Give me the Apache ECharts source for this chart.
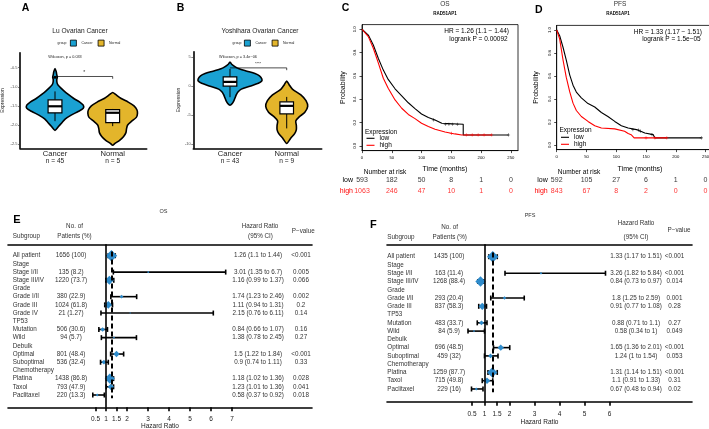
<!DOCTYPE html>
<html><head><meta charset="utf-8">
<script src="https://cdn.jsdelivr.net/npm/echarts@6/dist/echarts.min.js"></script>
<style>html,body{margin:0;padding:0;background:#fff}#c{width:709px;height:429px}</style>
</head><body><div id="c"></div>
<script>
const FONT = '"Liberation Sans", Arial, Helvetica, sans-serif';

// ---------- Panels A / B : violin plots ----------
const violinGroups = ['Cancer', 'Normal'];
const luCounts = [45, 5];
const yoshCounts = [43, 9];
const luTicks = [-2.5, -2, -1.5, -1, -0.5];
const yoshTicks = [-10, -5, 0, 5];
// [expression, half-width in group units]
const luCancerProfile = [[-0.52,0],[-0.6,0.02],[-0.68,0.03],[-0.75,0.04],[-0.82,0.03],[-0.92,0.04],[-1.0,0.08],[-1.1,0.15],[-1.2,0.23],[-1.3,0.32],[-1.4,0.43],[-1.48,0.49],[-1.56,0.49],[-1.64,0.41],[-1.74,0.28],[-1.84,0.18],[-1.94,0.12],[-2.04,0.06],[-2.14,0]];
const luNormalProfile = [[-1.15,0],[-1.2,0.05],[-1.3,0.14],[-1.4,0.27],[-1.5,0.37],[-1.6,0.42],[-1.7,0.43],[-1.8,0.41],[-1.9,0.33],[-2.0,0.26],[-2.1,0.24],[-2.2,0.23],[-2.3,0.19],[-2.4,0.12],[-2.48,0.04],[-2.53,0]];
const yoshCancerProfile = [[4.2,0],[3.8,0.03],[3.3,0.1],[3.0,0.16],[2.6,0.3],[2.2,0.44],[1.8,0.52],[1.3,0.56],[0.9,0.56],[0.5,0.5],[0.0,0.35],[-0.5,0.2],[-1.0,0.14],[-1.5,0.11],[-2.0,0.09],[-2.5,0.07],[-3.0,0.04],[-3.3,0]];
const yoshNormalProfile = [[0.9,0],[0.3,0.04],[-0.5,0.1],[-1.5,0.25],[-2.5,0.34],[-3.5,0.37],[-4.5,0.32],[-5.3,0.22],[-6.0,0.16],[-6.8,0.17],[-7.5,0.17],[-8.2,0.14],[-9.0,0.07],[-9.9,0]];
// [lower whisker, Q1, median, Q3, upper whisker]
const luCancerBox = [-1.90, -1.68, -1.51, -1.34, -1.12];
const luNormalBox = [-2.03, -1.94, -1.68, -1.60, -1.58];
const yoshCancerBox = [-1.9, 0.0, 0.75, 1.6, 3.0];
const yoshNormalBox = [-7.3, -4.8, -3.4, -2.7, -1.85];
const luCancerOutliers = [-0.75];
const luBracket = [[1, -0.73], [2, -0.73], [2, -0.79]];
const yoshBracket = [[1, 3.17], [2, 3.17], [2, 2.77]];

// ---------- Panels C / D : Kaplan-Meier ----------
const kmTicksX = [0, 50, 100, 150, 200, 250];
const kmTicksY = [0, 0.2, 0.4, 0.6, 0.8, 1.0];
const osLowCurve = [[0,1],[10.6,0.95],[19,0.865],[27.5,0.75],[35.8,0.65],[44,0.57],[55.5,0.49],[66.7,0.43],[77.8,0.37],[89,0.32],[100,0.274],[111.4,0.243],[122.7,0.223],[134,0.194],[137,0.186],[170,0.186],[170,0.094],[246,0.094]];
const osHighCurve = [[0,1],[10.6,0.937],[19,0.837],[27.5,0.71],[35.8,0.58],[44,0.494],[55.5,0.394],[66.7,0.323],[77.8,0.27],[89,0.234],[100,0.194],[111.4,0.166],[122.7,0.143],[139.5,0.12],[156,0.103],[167.6,0.094],[218,0.094]];
const pfsLowCurve = [[0,1],[5,0.95],[10.6,0.85],[16,0.74],[21.8,0.61],[27.4,0.52],[33,0.46],[41.4,0.41],[52.6,0.36],[63.9,0.33],[75,0.283],[86,0.248],[97.5,0.205],[108.6,0.168],[120,0.148],[134,0.134],[148,0.105],[162,0.09],[165,0.09],[165,0.062],[243,0.062]];
const pfsHighCurve = [[0,1],[5,0.92],[10.6,0.74],[16,0.59],[21.8,0.464],[27.4,0.364],[33,0.30],[41.4,0.248],[52.6,0.205],[63.9,0.168],[75,0.148],[97.5,0.14],[114,0.119],[120,0.1],[125,0.09],[130,0.062],[185,0.062]];
// censor marks [time, probability]
const osLowCensor = [[120,0.223],[140,0.186],[146,0.186],[152,0.186],[160,0.186],[246,0.094]];
const osHighCensor = [[150,0.108],[175,0.094],[185,0.094],[195,0.094],[205,0.094],[218,0.094]];
const pfsLowCensor = [[128,0.134],[137,0.13],[141,0.12],[160,0.09],[243,0.062]];
const pfsHighCensor = [[150,0.062],[165,0.062],[185,0.062]];
const riskTimes = [0, 50, 100, 150, 200, 250];
const osRiskLow = [593, 182, 50, 8, 1, 0];
const osRiskHigh = [1063, 246, 47, 10, 1, 0];
const pfsRiskLow = [592, 105, 27, 6, 1, 0];
const pfsRiskHigh = [843, 67, 8, 2, 0, 0];

// ---------- Panels E / F : forest plots ----------
const osSubgroups = ['All patient','Stage','Stage I/II','Stage III/IV','Grade','Grade I/II','Grade III','Grade IV','TP53','Mutation','Wild','Debulk','Optimal','Suboptimal','Chemotherapy','Platina','Taxol','Paclitaxel'];
const osN =    [1656,null,135,1220,null,380,1024,21,null,506,94,null,801,536,null,1438,793,220];
const osPct =  [100,null,8.2,73.7,null,22.9,61.8,1.27,null,30.6,5.7,null,48.4,32.4,null,86.8,47.9,13.3];
const osHR =   [1.26,null,3.01,1.16,null,1.74,1.11,2.15,null,0.84,1.38,null,1.5,0.9,null,1.18,1.23,0.58];
const osLow =  [1.1,null,1.35,0.99,null,1.23,0.94,0.76,null,0.66,0.78,null,1.22,0.74,null,1.02,1.01,0.37];
const osHigh = [1.44,null,6.7,1.37,null,2.46,1.31,6.11,null,1.07,2.45,null,1.84,1.11,null,1.36,1.36,0.92];
const osP =    ['<0.001',null,'0.005','0.066',null,'0.002','0.2','0.14',null,'0.16','0.27',null,'<0.001','0.33',null,'0.028','0.041','0.018'];
const osAxisTicks = [0.5, 1, 1.5, 2, 3, 4, 5, 6, 7];

const pfsSubgroups = ['All patient','Stage','Stage I/II','Stage III/IV','Grade','Grade I/II','Grade III','TP53','Mutation','Wild','Debulk','Optimal','Suboptimal','Chemotherapy','Platina','Taxol','Paclitaxel'];
const pfsN =    [1435,null,163,1268,null,293,837,null,483,84,null,696,459,null,1259,715,229];
const pfsPct =  [100,null,11.4,88.4,null,20.4,58.3,null,33.7,5.9,null,48.5,32,null,87.7,49.8,16];
const pfsHR =   [1.33,null,3.26,0.84,null,1.8,0.91,null,0.88,0.58,null,1.65,1.24,null,1.31,1.1,0.67];
const pfsLow =  [1.17,null,1.82,0.73,null,1.25,0.77,null,0.71,0.34,null,1.36,1,null,1.14,0.91,0.48];
const pfsHigh = [1.51,null,5.84,0.97,null,2.59,1.08,null,1.1,1,null,2.01,1.54,null,1.51,1.33,0.94];
const pfsP =    ['<0.001',null,'<0.001','0.014',null,'0.001','0.28',null,'0.27','0.049',null,'<0.001','0.053',null,'<0.001','0.31','0.02'];
const pfsAxisTicks = [0.5, 1, 1.5, 2, 3, 4, 5, 6];

// ---------- styling ----------
const BLUE = '#1aa1d2', GOLD = '#e3b52b', DIAMOND = '#2e8bcb', RED = '#ff0000';
const FS = 6.3; // forest table font size
const PLUS = 'path://M-0.18,-1h0.36v0.82h0.82v0.36h-0.82v0.82h-0.36v-0.82h-0.82v-0.36h0.82z';

function violinSeries(name, xi, yi, xPos, profile, box, color, outliers) {
  return {
    type: 'custom', name: name, xAxisIndex: xi, yAxisIndex: yi,
    itemStyle: { color: color }, clip: false, z: 2,
    data: [[xPos, box[2]]], encode: { x: 0, y: 1 },
    renderItem: function (params, api) {
      const x = api.value(0);
      const c = (a, b) => api.coord([a, b]);
      const right = profile.map(p => c(x + p[1], p[0]));
      const left = profile.slice().reverse().filter(p => p[1] > 0).map(p => c(x - p[1], p[0]));
      const bw = 0.12;
      const tl = c(x - bw, box[3]), br = c(x + bw, box[1]);
      const ln = (p1, p2, w) => ({ type: 'line', shape: { x1: p1[0], y1: p1[1], x2: p2[0], y2: p2[1] }, style: { stroke: '#000', lineWidth: w } });
      const children = [
        { type: 'polygon', shape: { points: right.concat(left), smooth: 0.25 }, style: { fill: color, stroke: '#000', lineWidth: 1.6 } },
        ln(c(x, box[0]), c(x, box[1]), 1),
        ln(c(x, box[3]), c(x, box[4]), 1),
        { type: 'rect', shape: { x: tl[0], y: tl[1], width: br[0] - tl[0], height: br[1] - tl[1] }, style: { fill: '#fff', stroke: '#000', lineWidth: 1.2 } },
        ln(c(x - bw, box[2]), c(x + bw, box[2]), 2.2)
      ];
      (outliers || []).forEach(o => { const p = c(x, o); children.push({ type: 'circle', shape: { cx: p[0], cy: p[1], r: 1.6 }, style: { fill: '#000' } }); });
      return { type: 'group', children: children };
    }
  };
}

function violinXAxis(gi, min, max, counts) {
  return {
    gridIndex: gi, type: 'value', min: min, max: max,
    axisLine: { show: true, onZero: false, lineStyle: { color: '#000', width: 1.6 } },
    axisTick: { show: false }, splitLine: { show: false },
    axisLabel: {
      customValues: [1, 2], margin: 1.5,
      formatter: v => '{a|' + violinGroups[Math.round(v) - 1] + '}\n{b|n = ' + counts[Math.round(v) - 1] + '}',
      rich: { a: { fontSize: 7.6, lineHeight: 7.8, color: '#222', fontFamily: FONT }, b: { fontSize: 6.6, lineHeight: 7.8, color: '#222', fontFamily: FONT } }
    }
  };
}
function violinYAxis(gi, min, max, ticks, fmt, gap) {
  return {
    gridIndex: gi, type: 'value', min: min, max: max,
    axisLine: { show: true, onZero: false, lineStyle: { color: '#000', width: 1.6 } },
    axisTick: { show: true, customValues: ticks, length: 2, lineStyle: { color: '#333', width: 0.6 } },
    axisLabel: { customValues: ticks, fontSize: 4, color: '#4d4d4d', margin: 2.5, formatter: fmt },
    splitLine: { show: false },
    name: 'Expression', nameLocation: 'middle', nameGap: gap, nameTextStyle: { fontSize: 5, color: '#222' }
  };
}
function kmXAxis(gi) {
  return {
    gridIndex: gi, type: 'value', min: 0, max: 262,
    axisLine: { show: true, onZero: false, lineStyle: { color: '#000', width: 0.8 } },
    axisTick: { customValues: kmTicksX, length: 2.5, lineStyle: { color: '#000', width: 0.7 } },
    axisLabel: { customValues: kmTicksX, fontSize: 4.2, color: '#000', margin: 5.5 },
    splitLine: { show: false }
  };
}
function kmYAxis(gi, gap) {
  return {
    gridIndex: gi, type: 'value', min: -0.04, max: 1.04,
    axisLine: { show: true, onZero: false, lineStyle: { color: '#000', width: 0.8 } },
    axisTick: { customValues: kmTicksY, length: 2.5, lineStyle: { color: '#000', width: 0.7 } },
    axisLabel: { customValues: kmTicksY, fontSize: 4.2, color: '#000', margin: 5, rotate: 90, formatter: v => v.toFixed(1) },
    splitLine: { show: false },
    name: 'Probability', nameLocation: 'middle', nameGap: gap, nameTextStyle: { fontSize: 7, color: '#000' }
  };
}
function riskYAxis(gi, margin) {
  return {
    gridIndex: gi, type: 'category', data: ['low', 'high'], inverse: true,
    axisLine: { show: false, onZero: false }, axisTick: { show: false }, splitLine: { show: false },
    axisLabel: { fontSize: 7, margin: margin, color: v => (v === 'high' ? RED : '#000') }
  };
}
function forestXAxes(gi, min, max, ticks, width, labelMargin, nameGap) {
  return [
    { gridIndex: gi, type: 'value', position: 'bottom', min: min, max: max,
      axisLine: { show: true, onZero: false, lineStyle: { color: '#000', width: 1.6 } },
      axisTick: { customValues: ticks, length: 4, lineStyle: { color: '#000', width: 1.6 } },
      axisLabel: { customValues: ticks, fontSize: 6.5, color: '#222', margin: labelMargin, formatter: v => String(v) },
      splitLine: { show: false },
      name: 'Hazard Ratio', nameLocation: 'middle', nameGap: nameGap, nameTextStyle: { fontSize: 6.5, color: '#222' } },
    { gridIndex: gi, type: 'value', position: 'top', min: min, max: max,
      axisLine: { show: true, onZero: false, lineStyle: { color: '#000', width: 1.6 } },
      axisTick: { show: false }, axisLabel: { show: false }, splitLine: { show: false } },
    { gridIndex: gi, type: 'value', min: 0, max: width, show: false, axisLine: { onZero: false } }
  ];
}

function textColumn(xi, yi, offset, texts, align) {
  const data = [];
  texts.forEach((t, i) => { if (t !== null && t !== undefined) data.push([offset, i, t]); });
  return {
    type: 'custom', xAxisIndex: xi, yAxisIndex: yi, clip: false, silent: true, z: 6,
    data: data, encode: { x: 0, y: 1 },
    renderItem: function (params, api) {
      const p = api.coord([api.value(0), api.value(1)]);
      return { type: 'text', x: p[0], y: p[1],
        style: { text: data[params.dataIndex][2], fontSize: FS, fill: '#333', fontFamily: FONT, align: align, verticalAlign: 'middle' } };
    }
  };
}

function forestSeries(xHR, xCol, yi, subgroups, N, pct, HR, lo, hi, P, cols, lastRow) {
  const ci = [], dia = [];
  const maxN = Math.max.apply(null, N.filter(v => v !== null));
  HR.forEach((h, i) => { if (h !== null) { ci.push([i, lo[i], hi[i]]); dia.push([h, i, N[i]]); } });
  const nText = N.map((n, i) => (n === null ? null : n + ' (' + pct[i] + ')'));
  const hrText = HR.map((h, i) => (h === null ? null : h + ' (' + lo[i] + ' to ' + hi[i] + ')'));
  return [
    { type: 'custom', xAxisIndex: xHR, yAxisIndex: yi, data: ci, encode: { x: [1, 2], y: 0 }, z: 3, clip: false,
      renderItem: function (params, api) {
        const r = api.value(0);
        const a = api.coord([api.value(1), r]), b = api.coord([api.value(2), r]);
        const st = { stroke: '#000', lineWidth: 1.6 };
        return { type: 'group', children: [
          { type: 'line', shape: { x1: a[0], y1: a[1], x2: b[0], y2: b[1] }, style: st },
          { type: 'line', shape: { x1: a[0], y1: a[1] - 2.5, x2: a[0], y2: a[1] + 2.5 }, style: st },
          { type: 'line', shape: { x1: b[0], y1: b[1] - 2.5, x2: b[0], y2: b[1] + 2.5 }, style: st }
        ] };
      },
      markLine: { silent: true, symbol: 'none', label: { show: false }, animation: false,
        data: [
          { xAxis: 1, lineStyle: { color: '#000', width: 1.6, type: 'solid' } },
          [{ coord: [HR[0], -0.5], lineStyle: { color: '#000', width: 2, type: [5, 3] } }, { coord: [HR[0], lastRow + 0.4] }]
        ] } },
    { type: 'scatter', xAxisIndex: xHR, yAxisIndex: yi, data: dia, z: 4, clip: false, symbol: 'diamond',
      symbolSize: v => 1.5 + 10 * v[2] / maxN, itemStyle: { color: DIAMOND, opacity: 1 } },
    textColumn(xCol, yi, cols[0], subgroups, 'left'),
    textColumn(xCol, yi, cols[1], nText, 'center'),
    textColumn(xCol, yi, cols[2], hrText, 'center'),
    textColumn(xCol, yi, cols[3], P, 'center')
  ];
}

function riskSeries(xi, yi, row, vals, color) {
  return { type: 'scatter', xAxisIndex: xi, yAxisIndex: yi, silent: true, clip: false,
    symbolSize: 1, itemStyle: { color: 'rgba(0,0,0,0)' },
    data: riskTimes.map((t, i) => [t, row, vals[i]]),
    label: { show: true, position: 'inside', fontSize: 7, color: color, fontFamily: FONT, formatter: p => String(p.value[2]) } };
}
function kmLine(name, xi, yi, data, color) {
  return { type: 'line', name: name, xAxisIndex: xi, yAxisIndex: yi, data: data, showSymbol: false, symbol: 'none',
    lineStyle: { color: color, width: 1.1 }, itemStyle: { color: color }, z: 3 };
}
function kmCensor(xi, yi, data, color) {
  return { type: 'scatter', xAxisIndex: xi, yAxisIndex: yi, data: data, symbol: PLUS, symbolSize: 3.2,
    itemStyle: { color: color }, silent: true, z: 4 };
}

function T(text, x, y, size, o) {
  o = o || {};
  return { type: 'text', x: x, y: y, rotation: o.rot || 0, silent: true,
    style: { text: text, fontSize: size, fontFamily: FONT, fill: o.color || '#222', fontWeight: o.bold ? 'bold' : 'normal',
      align: o.align || 'center', verticalAlign: 'middle' } };
}

const grids = [
  { left: 20, top: 52.7, width: 126.7, height: 95.6 },
  { left: 193.3, top: 51.7, width: 128.4, height: 96.6 },
  { left: 362, top: 24.6, width: 156, height: 126, show: true, borderColor: '#000', borderWidth: 0.8 },
  { left: 362, top: 174.5, width: 156, height: 22 },
  { left: 556.7, top: 25.4, width: 156, height: 124.2, show: true, borderColor: '#000', borderWidth: 0.8 },
  { left: 556.7, top: 174.5, width: 156, height: 22 },
  { left: 8, top: 244.3, width: 304, height: 163 },
  { left: 387, top: 244.3, width: 305, height: 157.4 }
].map(g => Object.assign({ containLabel: false, outerBoundsMode: 'none' }, g));

const xAxes = [
  violinXAxis(0, 0.393, 2.59, luCounts),
  violinXAxis(1, 0.353, 2.617, yoshCounts),
  kmXAxis(2),
  { gridIndex: 3, type: 'value', min: 0, max: 262, show: false, axisLine: { onZero: false } },
  kmXAxis(4),
  { gridIndex: 5, type: 'value', min: 0, max: 262, show: false, axisLine: { onZero: false } }
].concat(forestXAxes(6, -3.667, 10.81, osAxisTicks, 304, 8, 15.5))
 .concat(forestXAxes(7, -2.9, 9.3, pfsAxisTicks, 305, 9, 16.5));

const yAxes = [
  violinYAxis(0, -2.61, -0.107, luTicks, v => v.toFixed(1), 14.5),
  violinYAxis(1, -10.74, 5.97, yoshTicks, v => String(v), 10.5),
  kmYAxis(2, 15.5),
  riskYAxis(3, 9),
  kmYAxis(4, 17),
  riskYAxis(5, 9),
  { gridIndex: 6, type: 'value', inverse: true, min: -1.39, max: 18.5, show: false, axisLine: { onZero: false } },
  { gridIndex: 7, type: 'value', inverse: true, min: -1.5, max: 17.54, show: false, axisLine: { onZero: false } }
];

const series = [
  violinSeries('Cancer', 0, 0, 1, luCancerProfile, luCancerBox, BLUE, luCancerOutliers),
  violinSeries('Normal', 0, 0, 2, luNormalProfile, luNormalBox, GOLD),
  violinSeries('Cancer', 1, 1, 1, yoshCancerProfile, yoshCancerBox, BLUE),
  violinSeries('Normal', 1, 1, 2, yoshNormalProfile, yoshNormalBox, GOLD),
  { type: 'line', xAxisIndex: 0, yAxisIndex: 0, data: luBracket, symbol: 'none', lineStyle: { color: '#000', width: 0.7 }, z: 5, clip: false },
  { type: 'line', xAxisIndex: 1, yAxisIndex: 1, data: yoshBracket, symbol: 'none', lineStyle: { color: '#000', width: 0.7 }, z: 5, clip: false },
  kmLine('low', 2, 2, osLowCurve, '#000'),
  kmLine('high', 2, 2, osHighCurve, RED),
  kmLine('low', 4, 4, pfsLowCurve, '#000'),
  kmLine('high', 4, 4, pfsHighCurve, RED),
  kmCensor(2, 2, osLowCensor, '#000'),
  kmCensor(2, 2, osHighCensor, RED),
  kmCensor(4, 4, pfsLowCensor, '#000'),
  kmCensor(4, 4, pfsHighCensor, RED),
  riskSeries(3, 3, 'low', osRiskLow, '#000'),
  riskSeries(3, 3, 'high', osRiskHigh, RED),
  riskSeries(5, 5, 'low', pfsRiskLow, '#000'),
  riskSeries(5, 5, 'high', pfsRiskHigh, RED)
].concat(forestSeries(6, 8, 6, osSubgroups, osN, osPct, osHR, osLow, osHigh, osP, [4.7, 63, 250, 293], osSubgroups.length - 1))
 .concat(forestSeries(9, 11, 7, pfsSubgroups, pfsN, pfsPct, pfsHR, pfsLow, pfsHigh, pfsP, [0.3, 62, 249, 287.5], pfsSubgroups.length - 1));

const violinLegend = (left) => ({ data: violinGroups, left: left, top: 39.7, orient: 'horizontal', icon: 'rect', itemWidth: 6, itemHeight: 6, itemGap: 5,
  padding: 0, selectedMode: false, itemStyle: { borderColor: '#000', borderWidth: 0.8 }, textStyle: { fontSize: 3.5, color: '#222', fontFamily: FONT } });
const kmLegend = (left, top) => ({ data: ['low', 'high'], left: left, top: top, orient: 'vertical', icon: 'rect', itemWidth: 8, itemHeight: 1.1, itemGap: 0,
  padding: 0, selectedMode: false, textStyle: { fontSize: 6.5, lineHeight: 6.6, color: '#000', fontFamily: FONT } });

const graphics = [
  T('A', 21.7, 8.5, 10.5, { bold: true, align: 'left', color: '#000' }),
  T('B', 176.7, 8.5, 10.5, { bold: true, align: 'left', color: '#000' }),
  T('C', 341.7, 8.5, 10.5, { bold: true, align: 'left', color: '#000' }),
  T('D', 535, 9.7, 10.5, { bold: true, align: 'left', color: '#000' }),
  T('E', 13.3, 219.5, 11, { bold: true, align: 'left', color: '#000' }),
  T('F', 370, 225.3, 11, { bold: true, align: 'left', color: '#000' }),
  T('Lu Ovarian Cancer', 80, 30.7, 6.6),
  T('Yoshihara Ovarian Cancer', 260, 30.7, 6.6),
  T('group', 62, 42.7, 3.5),
  T('group', 237, 42.7, 3.5),
  T('Wilcoxon, p = 0.033', 65, 57.3, 3.8),
  T('Wilcoxon, p = 3.4e\u221206', 238, 56.7, 3.8),
  T('*', 84.3, 72.5, 5),
  T('****', 258, 64, 4),
  T('OS', 445, 4.2, 6.5, { color: '#333' }),
  T('RAD51AP1', 445, 14, 4.5, { bold: true, color: '#000' }),
  T('PFS', 620, 4.2, 6.5, { color: '#333' }),
  T('RAD51AP1', 618, 14, 4.5, { bold: true, color: '#000' }),
  T('HR = 1.26 (1.1 \u2212 1.44)', 509, 31.7, 6.5, { align: 'right', color: '#000' }),
  T('logrank P = 0.00092', 507.7, 39, 6.5, { align: 'right', color: '#000' }),
  T('HR = 1.33 (1.17 \u2212 1.51)', 702, 32.3, 6.5, { align: 'right', color: '#000' }),
  T('logrank P = 1.5e\u221205', 700.7, 39.7, 6.5, { align: 'right', color: '#000' }),
  T('Expression', 365, 132.3, 6.5, { align: 'left', color: '#000' }),
  T('Expression', 559.5, 130.5, 6.5, { align: 'left', color: '#000' }),
  T('Time (months)', 445, 169.3, 7, { color: '#000' }),
  T('Time (months)', 640, 169, 7, { color: '#000' }),
  T('Number at risk', 385, 172.7, 6.5, { color: '#000' }),
  T('Number at risk', 579, 172.7, 6.5, { color: '#000' }),
  T('OS', 163.5, 211, 5.5, { color: '#333' }),
  T('Subgroup', 12.7, 236.7, FS, { align: 'left', color: '#333' }),
  T('No. of', 74.5, 226.7, FS, { color: '#333' }),
  T('Patients (%)', 74.5, 236.7, FS, { color: '#333' }),
  T('Hazard Ratio', 260, 226.5, FS, { color: '#333' }),
  T('(95% CI)', 260.5, 236.7, FS, { color: '#333' }),
  T('P\u2212value', 303.3, 231.3, FS, { color: '#333' }),
  T('PFS', 530, 215.7, 5.5, { color: '#333' }),
  T('Subgroup', 387.3, 237, FS, { align: 'left', color: '#333' }),
  T('No. of', 449.7, 227.7, FS, { color: '#333' }),
  T('Patients (%)', 449.7, 237, FS, { color: '#333' }),
  T('Hazard Ratio', 636, 223.5, FS, { color: '#333' }),
  T('(95% CI)', 636, 237.3, FS, { color: '#333' }),
  T('P\u2212value', 679, 230.3, FS, { color: '#333' })
];

const chart = echarts.init(document.getElementById('c'), null, { renderer: 'canvas' });
chart.setOption({
  animation: false,
  backgroundColor: '#fff',
  textStyle: { fontFamily: FONT },
  grid: grids,
  xAxis: xAxes,
  yAxis: yAxes,
  legend: [violinLegend(70), violinLegend(244), kmLegend(366.5, 134.8), kmLegend(561, 133.8)],
  series: series,
  graphic: { elements: graphics }
});
</script></body></html>
